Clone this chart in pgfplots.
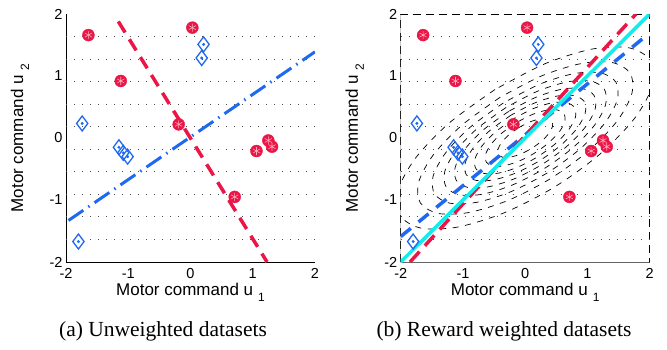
\documentclass[border=0pt]{standalone}
\usepackage{pgfplots}
\pgfplotsset{compat=1.18}
\usepackage{pgfplotstable}
\usepackage{fontspec}
\setmainfont{Liberation Serif}
\newfontfamily\hel{Liberation Sans}
\definecolor{myred}{RGB}{235,22,70}
\definecolor{myblue}{RGB}{30,105,240}
\definecolor{mycyan}{RGB}{20,235,235}

\pgfplotstableread{
x y
-1.64 1.66
0.03 1.78
-1.12 0.92
-0.19 0.22
1.25 -0.04
1.31 -0.14
1.06 -0.21
0.71 -0.95
}\reddata

\pgfplotstableread{
x y
0.21 1.51
0.18 1.29
-1.74 0.235
-1.15 -0.15
-1.08 -0.24
-1.01 -0.30
-1.80 -1.67
}\bluedata

\pgfplotsset{
 myax/.style={
  scale only axis, width=249pt, height=248pt,
  xmin=-2,xmax=2,ymin=-2,ymax=2,
  xtick={-2,-1,0,1,2}, ytick={-2,-1,0,1,2},
  xticklabels={-2,-1,0,1,2}, yticklabels={-2,-1,0,1,2},
  tick label style={font=\hel\fontsize{14.5}{16}\selectfont},
  xticklabel style={yshift=-3pt},
  label style={font=\hel\fontsize{17}{20}\selectfont},
  xlabel={Motor command u\hspace{5pt}\raisebox{-6pt}{\fontsize{12}{14}\selectfont 1}},
  ylabel={Motor command u\hspace{5pt}\raisebox{-6pt}{\fontsize{12}{14}\selectfont 2}},
  xlabel style={at={(axis description cs:0.5,-0.121)}, anchor=center},
  ylabel style={at={(axis description cs:-0.185,0.5)}, anchor=center},
  major tick length=0pt,
  extra y ticks={1.6364,1.2727,0.9091,0.5455,0.1818,-0.1818,-0.5455,-0.9091,-1.2727,-1.6364},
  extra y tick labels={},
  extra y tick style={grid=major, major tick length=0pt},
  grid style={black!70, line width=0.9pt, dash pattern=on 1pt off 7pt},
 },
 ctr/.style={black, line width=0.7pt, dash pattern=on 6pt off 6.5pt, smooth},
}

\begin{document}
\begin{tikzpicture}
\path[use as bounding box] (0pt,0pt) rectangle (667pt,-350pt);

% ---------- (a) ----------
\begin{axis}[myax, at={(66pt,-262pt)}, anchor=south west,
  axis x line*=bottom, axis y line*=left,
  axis line style={-, black, line width=0.9pt}]
\addplot[myred, line width=3.5pt, dash pattern=on 13pt off 8pt] coordinates {(-1.16,1.88) (1.23,-2.0)};
\addplot[myblue, line width=3pt, dash pattern=on 18pt off 6pt on 1.5pt off 6pt] coordinates {(-1.96,-1.33) (2.0,1.39)};
\addplot[only marks, mark=*, mark size=6pt, color=myred] table {\reddata};
\addplot[only marks, mark=asterisk, mark size=4pt, color=white!65!myred, mark options={line width=0.6pt}] table {\reddata};
\addplot[only marks, mark=diamond, mark size=7.5pt, color=myblue, mark options={line width=1.3pt}] table {\bluedata};
\addplot[only marks, mark=*, mark size=1.3pt, color=myblue] table {\bluedata};
\end{axis}

% ---------- (b) ----------
\begin{axis}[myax, at={(400.7pt,-262pt)}, anchor=south west,
  axis line style={black, line width=0.8pt, dash pattern=on 8pt off 5pt}]
\draw[black!60, line width=0.8pt] (rel axis cs:0,1) -- (rel axis cs:0,0) -- (rel axis cs:1,0);
% contours
\addplot[ctr] coordinates {(-0.485,0.782) (-1.219,0.244) (-1.767,-0.330) (-2.047,-0.855) (-2.014,-1.249) (-1.676,-1.453) (-1.082,-1.436) (-0.323,-1.200) (0.485,-0.782) (1.219,-0.244) (1.767,0.330) (2.047,0.855) (2.014,1.249) (1.676,1.453) (1.082,1.436) (0.323,1.200) (-0.485,0.782)};
\addplot[ctr] coordinates {(-0.406,0.655) (-1.020,0.204) (-1.479,-0.276) (-1.713,-0.716) (-1.686,-1.045) (-1.403,-1.216) (-0.906,-1.202) (-0.270,-1.004) (0.406,-0.655) (1.020,-0.204) (1.479,0.276) (1.713,0.716) (1.686,1.045) (1.403,1.216) (0.906,1.202) (0.270,1.004) (-0.406,0.655)};
\addplot[ctr] coordinates {(-0.351,0.565) (-0.881,0.176) (-1.278,-0.239) (-1.480,-0.618) (-1.456,-0.903) (-1.212,-1.051) (-0.782,-1.038) (-0.234,-0.868) (0.351,-0.565) (0.881,-0.176) (1.278,0.239) (1.480,0.618) (1.456,0.903) (1.212,1.051) (0.782,1.038) (0.234,0.868) (-0.351,0.565)};
\addplot[ctr] coordinates {(-0.306,0.493) (-0.769,0.154) (-1.115,-0.208) (-1.292,-0.540) (-1.271,-0.788) (-1.058,-0.917) (-0.683,-0.906) (-0.204,-0.757) (0.306,-0.493) (0.769,-0.154) (1.115,0.208) (1.292,0.540) (1.271,0.788) (1.058,0.917) (0.683,0.906) (0.204,0.757) (-0.306,0.493)};
\addplot[ctr] coordinates {(-0.266,0.429) (-0.669,0.134) (-0.970,-0.181) (-1.124,-0.469) (-1.106,-0.686) (-0.920,-0.798) (-0.594,-0.788) (-0.177,-0.659) (0.266,-0.429) (0.669,-0.134) (0.970,0.181) (1.124,0.469) (1.106,0.686) (0.920,0.798) (0.594,0.788) (0.177,0.659) (-0.266,0.429)};
\addplot[ctr] coordinates {(-0.228,0.368) (-0.574,0.115) (-0.832,-0.155) (-0.964,-0.403) (-0.949,-0.588) (-0.789,-0.684) (-0.510,-0.676) (-0.152,-0.565) (0.228,-0.368) (0.574,-0.115) (0.832,0.155) (0.964,0.403) (0.949,0.588) (0.789,0.684) (0.510,0.676) (0.152,0.565) (-0.228,0.368)};
\addplot[ctr] coordinates {(-0.191,0.308) (-0.480,0.096) (-0.696,-0.130) (-0.807,-0.337) (-0.794,-0.492) (-0.660,-0.572) (-0.426,-0.566) (-0.127,-0.473) (0.191,-0.308) (0.480,-0.096) (0.696,0.130) (0.807,0.337) (0.794,0.492) (0.660,0.572) (0.426,0.566) (0.127,0.473) (-0.191,0.308)};
\addplot[ctr] coordinates {(-0.151,0.243) (-0.379,0.076) (-0.550,-0.103) (-0.637,-0.266) (-0.626,-0.388) (-0.521,-0.452) (-0.337,-0.447) (-0.100,-0.373) (0.151,-0.243) (0.379,-0.076) (0.550,0.103) (0.637,0.266) (0.626,0.388) (0.521,0.452) (0.337,0.447) (0.100,0.373) (-0.151,0.243)};
\addplot[ctr] coordinates {(-0.104,0.167) (-0.261,0.052) (-0.378,-0.071) (-0.438,-0.183) (-0.431,-0.267) (-0.359,-0.311) (-0.232,-0.307) (-0.069,-0.257) (0.104,-0.167) (0.261,-0.052) (0.378,0.071) (0.438,0.183) (0.431,0.267) (0.359,0.311) (0.232,0.307) (0.069,0.257) (-0.104,0.167)};
% lines
\addplot[myblue, line width=3.5pt, dash pattern=on 13pt off 10pt] coordinates {(-2.0,-1.59) (1.97,1.67)};
\addplot[myred, line width=3.5pt, dash pattern=on 14pt off 8pt] coordinates {(-1.85,-2.0) (1.78,2.0)};
\addplot[mycyan, line width=3.5pt] coordinates {(-2,-2) (2,2)};
% points
\addplot[only marks, mark=*, mark size=6pt, color=myred] table {\reddata};
\addplot[only marks, mark=asterisk, mark size=4pt, color=white!65!myred, mark options={line width=0.6pt}] table {\reddata};
\addplot[only marks, mark=diamond, mark size=7.5pt, color=myblue, mark options={line width=1.3pt}] table {\bluedata};
\addplot[only marks, mark=*, mark size=1.3pt, color=myblue] table {\bluedata};
\end{axis}

\node[font=\fontsize{21.5}{24}\selectfont] at (163pt,-331pt) {(a) Unweighted datasets};
\node[font=\fontsize{21.5}{24}\selectfont] at (504pt,-331pt) {(b) Reward weighted datasets};
\end{tikzpicture}
\end{document}
